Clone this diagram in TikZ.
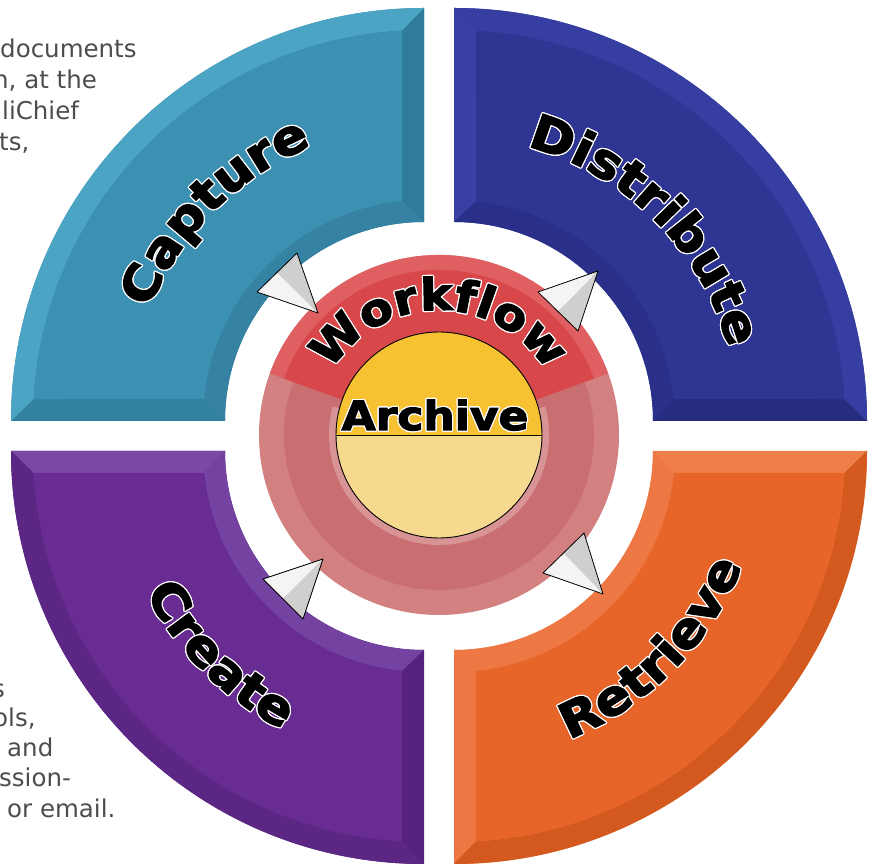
\documentclass[tikz,border=0pt]{standalone}
\usepackage{fontspec}
\usepackage{contour}
\usetikzlibrary{decorations.text,calc}
\newfontfamily\notefont{DejaVu Sans}
\newfontfamily\lblfont{DejaVu Sans}[FakeStretch=1.1,FakeBold=3]
\contourlength{1.2pt}
\newcommand\outl[1]{\contour{white}{#1}}
\definecolor{notegray}{HTML}{4D4D4D}
\definecolor{capA}{HTML}{2E7B9B}
\definecolor{capB}{HTML}{3281A1}
\definecolor{capO}{HTML}{4BA4C4}
\definecolor{capI}{HTML}{3682A2}
\definecolor{capF}{HTML}{3C91B2}
\definecolor{disA}{HTML}{272C7F}
\definecolor{disB}{HTML}{3840A4}
\definecolor{disO}{HTML}{363FA1}
\definecolor{disI}{HTML}{2A3089}
\definecolor{disF}{HTML}{2E3593}
\definecolor{creA}{HTML}{7A49A6}
\definecolor{creB}{HTML}{56217F}
\definecolor{creO}{HTML}{5B2684}
\definecolor{creI}{HTML}{7442A0}
\definecolor{creF}{HTML}{682C92}
\definecolor{retA}{HTML}{ED7843}
\definecolor{retB}{HTML}{EF7F4A}
\definecolor{retO}{HTML}{D3591F}
\definecolor{retI}{HTML}{ED7844}
\definecolor{retF}{HTML}{E8652A}
\definecolor{ringPink}{HTML}{C96F71}
\definecolor{ringLight}{HTML}{D28080}
\definecolor{ringHi}{HTML}{D89494}
\definecolor{ringRed}{HTML}{D8484B}
\definecolor{ringRedHi}{HTML}{E06062}
\definecolor{yelTop}{HTML}{F6C232}
\definecolor{yelBot}{HTML}{F6D98E}
\definecolor{arrW}{HTML}{F4F4F4}
\definecolor{arrG}{HTML}{CFCFCF}
\tikzset{
	note/.style={anchor=base west,inner sep=0pt,text=notegray,font=\notefont\fontsize{24.5}{24.5}\selectfont},
	lbl/.style 2 args={decorate,decoration={text effects along path,text={#1},text align=center,
		text effects/.cd,text along path,characters={inner sep=0pt,text=black,font=\lblfont\bfseries\fontsize{#2}{#2}\selectfont},
		character command=\outl}},
	arrline/.style={black,line width=0.8pt,line join=round},
}
\begin{document}
\begin{tikzpicture}[x=1pt,y=1pt]
	\useasboundingbox (0,0) rectangle (875,864);
	\fill[white] (0,0) rectangle (875,864);
	\foreach \ang/\cx/\cy/\cA/\cB/\cO/\cI/\cF in {90/424/443/capA/capB/capO/capI/capF,0/454/443/disA/disB/disO/disI/disF,180/424/413/creA/creB/creO/creI/creF,270/454/413/retA/retB/retO/retI/retF} {
		\begin{scope}[shift={(\cx,\cy)},rotate=\ang]
			\fill[\cB] (0:199) arc[start angle=0,end angle=90,radius=199] -- (90:413) arc[start angle=90,end angle=0,radius=413] -- cycle;
			\fill[\cA] (0:199) -- (0:413) -- (3.225:391) -- (5.713:221) -- cycle;
			\fill[\cO] (0:413) arc[start angle=0,end angle=90,radius=413] -- (86.775:391) arc[start angle=86.775,end angle=3.225,radius=391] -- cycle;
			\fill[\cI] (0:199) arc[start angle=0,end angle=90,radius=199] -- (84.287:221) arc[start angle=84.287,end angle=5.713,radius=221] -- cycle;
			\fill[\cF] (5.713:221) arc[start angle=5.713,end angle=84.287,radius=221] -- (86.775:391) arc[start angle=86.775,end angle=3.225,radius=391] -- cycle;
		\end{scope}
	}
	\coordinate (capC) at (424,443);
	\coordinate (disC) at (454,443);
	\coordinate (creC) at (424,413);
	\coordinate (retC) at (454,413);
	\coordinate (hub) at (439,429);
	\path[lbl={Capture}{48}] ([shift={(180:297)}]capC) arc[start angle=180,end angle=90,radius=297];
	\path[lbl={Distribute}{48}] ([shift={(90:284)}]disC) arc[start angle=90,end angle=0,radius=284];
	\path[lbl={Create}{48}] ([shift={(180:312)}]creC) arc[start angle=180,end angle=270,radius=312];
	\path[lbl={Retrieve}{48}] ([shift={(270:310)}]retC) arc[start angle=270,end angle=360,radius=310];
	\fill[ringLight] (hub) circle[radius=180];
	\fill[ringPink] (hub) circle[radius=155];
	\fill[ringRedHi] ([shift={(20:180)}]hub) arc[start angle=20,end angle=160,radius=180] -- ([shift={(160:103)}]hub) arc[start angle=160,end angle=20,radius=103] -- cycle;
	\fill[ringRed] ([shift={(20:165)}]hub) arc[start angle=20,end angle=160,radius=165] -- ([shift={(160:103)}]hub) arc[start angle=160,end angle=20,radius=103] -- cycle;
	\fill[ringHi] ([shift={(165:110)}]hub) arc[start angle=165,end angle=375,radius=110] -- ([shift={(375:103)}]hub) arc[start angle=375,end angle=165,radius=103] -- cycle;
	\fill[yelTop] ([shift={(0:103)}]hub) arc[start angle=0,end angle=180,radius=103] -- cycle;
	\fill[yelBot] ([shift={(180:103)}]hub) arc[start angle=180,end angle=360,radius=103] -- cycle;
	\draw[black,line width=0.9pt] (hub) circle[radius=103];
	\draw[black,line width=0.9pt] ([shift={(180:103)}]hub) -- ([shift={(0:103)}]hub);
	\path[lbl={Workflow}{44}] ([shift={(180:125)}]hub) arc[start angle=180,end angle=0,radius=125];
	\node[anchor=base,inner sep=0pt,font=\lblfont\bfseries\fontsize{40}{40}\selectfont] (archive) at (435,434) {\outl{Archive}};
	\coordinate (tipTL) at (318,551);
	\coordinate (lftTL) at (257,572);
	\coordinate (gryTL) at (297,611);
	\coordinate (tipTR) at (598,593);
	\coordinate (lftTR) at (538,572);
	\coordinate (gryTR) at (578,533);
	\coordinate (tipBL) at (323,305);
	\coordinate (lftBL) at (263,285);
	\coordinate (gryBL) at (303,245);
	\coordinate (tipBR) at (603,270);
	\coordinate (lftBR) at (543,291);
	\coordinate (gryBR) at (584,331);
	\foreach \n in {TL,TR,BL,BR} {
		\fill[arrW] (tip\n) -- (lft\n) -- ($(lft\n)!.5!(gry\n)$) -- cycle;
		\fill[arrG] (tip\n) -- (gry\n) -- ($(lft\n)!.5!(gry\n)$) -- cycle;
		\draw[arrline] (tip\n) -- (lft\n) -- (gry\n) -- cycle;
	}
	\begin{scope}
		\clip (0,0) rectangle (875,864);
		\node[note] (top1) at (0,806) {documents};
		\node[note] (top2) at (-7,775) {n, at the};
		\node[note] (top3) at (2,744) {liChief};
		\node[note] (top4) at (-1,713) {ts,};
		\node[note] (bot1) at (-8,166) {s};
		\node[note] (bot2) at (-7,137) {ols,};
		\node[note] (bot3) at (7,107) {and};
		\node[note] (bot4) at (-1,77) {ssion-};
		\node[note] (bot5) at (7,46) {or email.};
	\end{scope}
\end{tikzpicture}
\end{document}
